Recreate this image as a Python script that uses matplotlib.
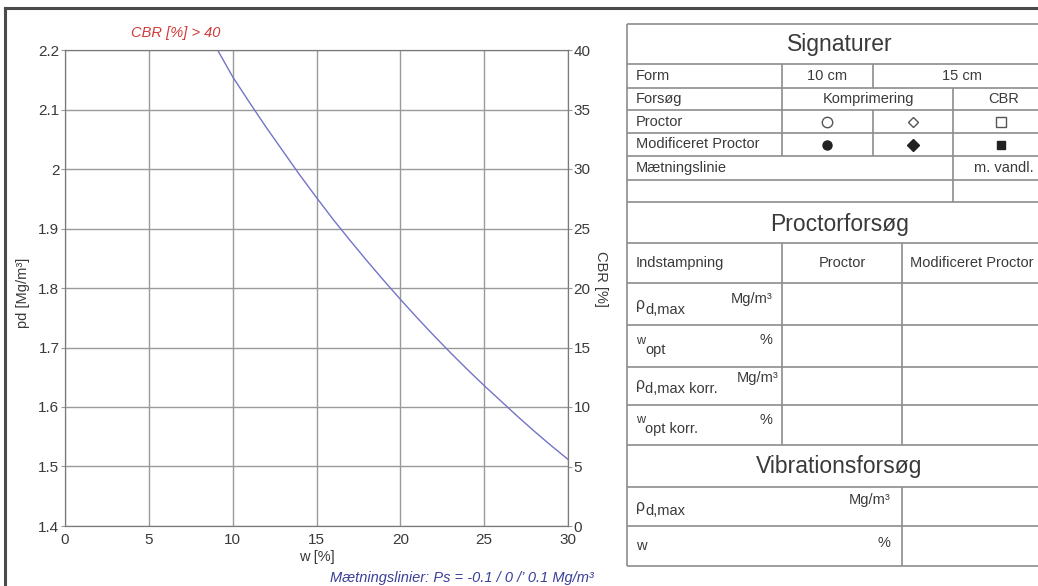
import matplotlib
matplotlib.use("Agg")
import matplotlib.pyplot as plt
from matplotlib.ticker import FuncFormatter

plt.rcParams['font.family'] = ['Liberation Sans', 'DejaVu Sans']

# saturation line (w [%], pd [Mg/m3])
w_sat = [9.1, 10, 11, 12, 13, 14, 15, 16, 17, 18, 19, 20, 21, 22, 23, 24, 25, 26, 27, 28, 29, 30]
pd_sat = [2.2, 2.155, 2.112, 2.07, 2.03, 1.99, 1.952, 1.915, 1.88, 1.846, 1.813, 1.781,
          1.75, 1.72, 1.691, 1.663, 1.636, 1.61, 1.584, 1.559, 1.535, 1.512]

w_ticks = [0, 5, 10, 15, 20, 25, 30]
pd_ticks = [1.4, 1.5, 1.6, 1.7, 1.8, 1.9, 2.0, 2.1, 2.2]
cbr_ticks = [0, 5, 10, 15, 20, 25, 30, 35, 40]

# table content
sig_labels = ['Form', 'Forsøg', 'Proctor', 'Modificeret Proctor', 'Mætningslinie']
proctor_syms = ['o', 'D', 's']
modproctor_syms = ['o', 'D', 's']
grid_col = '#9a9a9a'
tab_col = '#8c8c8c'
txt_col = '#3a3a3a'

fig = plt.figure(figsize=(10.38, 5.86), dpi=100)

# overlay in pixel coordinates for frame and table
ov = fig.add_axes([0, 0, 1, 1], zorder=0)
ov.set_xlim(0, 1038)
ov.set_ylim(586, 0)
ov.axis('off')

ax = fig.add_axes([65 / 1038, 1 - 526 / 586, 503 / 1038, 476 / 586], zorder=2)
ax.plot(w_sat, pd_sat, color='#7373c9', lw=1.0, zorder=3)
ax.set_xlim(0, 30)
ax.set_ylim(1.4, 2.2)
ax.set_xticks(w_ticks)
ax.set_yticks(pd_ticks)
ax.yaxis.set_major_formatter(FuncFormatter(lambda v, p: f'{v:g}'))
ax.grid(True, color=grid_col, lw=1.0)
ax.tick_params(axis='x', length=0, pad=5, labelsize=11, labelcolor=txt_col)
ax.tick_params(axis='y', length=3, color=grid_col, pad=1, labelsize=11, labelcolor=txt_col)
for s in ax.spines.values():
    s.set_color('#7a7a7a')
ax.set_xlabel('w [%]', fontsize=10.5, color=txt_col, labelpad=2)
ax.set_ylabel('pd [Mg/m³]', fontsize=10.5, color=txt_col)
ax.yaxis.set_label_coords(-0.07, 0.49)

ax2 = ax.twinx()
ax2.set_ylim(0, 40)
ax2.set_yticks(cbr_ticks)
ax2.tick_params(axis='y', length=3, color=grid_col, pad=1, labelsize=11, labelcolor=txt_col)
for s in ax2.spines.values():
    s.set_color('#7a7a7a')
ax2.set_ylabel('CBR [%]', fontsize=10.5, color=txt_col, rotation=270)
ax2.yaxis.set_label_coords(1.08, 0.52)

ax.text(0.22, 1.035, 'CBR [%] > 40', transform=ax.transAxes, ha='center', va='center',
        fontsize=10.5, style='italic', color='#d23a3a')
ov.text(462, 578, 'Mætningslinier: Ps = -0.1 / 0 /\u2019 0.1 Mg/m³', ha='center', va='center',
        fontsize=10.5, style='italic', color='#3a3f9a')

# outer frame
ov.plot([5, 1038], [8, 8], color='#4a4a4a', lw=2.2)
ov.plot([5, 5], [8, 586], color='#4a4a4a', lw=2.2)

# table geometry
X0, X1 = 627, 1052
sig_y = [24, 64, 88, 110, 133, 156, 180, 202]
proc_y = [243, 283, 325, 367, 405, 445]
vib_y = [487, 526, 566]


def hl(y, x0=X0, x1=X1):
    ov.plot([x0, x1], [y, y], color=tab_col, lw=1.2, solid_capstyle='butt')


def vl(x, y0, y1):
    ov.plot([x, x], [y0, y1], color=tab_col, lw=1.2, solid_capstyle='butt')


for y in sig_y + proc_y + vib_y:
    hl(y)
vl(X0, 24, 566)
vl(X1, 24, 566)
vl(782, 64, 156)
vl(873, 64, 88)
vl(873, 110, 156)
vl(953, 88, 202)
vl(782, 243, 445)
vl(902, 243, 445)
vl(902, 487, 566)

mid = (X0 + X1) / 2
ov.text(mid, 45, 'Signaturer', ha='center', va='center', fontsize=16.5, color=txt_col)
ov.text(mid, 225, 'Proctorforsøg', ha='center', va='center', fontsize=16.5, color=txt_col)
ov.text(mid, 467, 'Vibrationsforsøg', ha='center', va='center', fontsize=16.5, color=txt_col)

small = dict(fontsize=10.5, color=txt_col, va='center')
for i, lab in enumerate(sig_labels):
    ov.text(636, (sig_y[i + 1] + sig_y[i + 2]) / 2, lab, ha='left', **small)
ov.text(827, 76, '10 cm', ha='center', **small)
ov.text(962, 76, '15 cm', ha='center', **small)
ov.text(868, 99, 'Komprimering', ha='center', **small)
ov.text(1004, 99, 'CBR', ha='center', **small)
ov.text(1004, 168, 'm. vandl.', ha='center', **small)

sym_x = [827, 913, 1001]
sym_size = [7.5, 5.5, 6.5]
for x, m, ms in zip(sym_x, proctor_syms, sym_size):
    ov.plot(x, 121.5, marker=m, ms=ms, mfc='white', mec='#555555', mew=1.0)
for x, m, ms in zip(sym_x, modproctor_syms, [6.5, 6.5, 5.5]):
    ov.plot(x, 144.5, marker=m, ms=ms, mfc='#222222', mec='#222222')

ov.text(636, 263, 'Indstampning', ha='left', **small)
ov.text(842, 263, 'Proctor', ha='center', **small)
ov.text(910, 263, 'Modificeret Proctor', ha='left', **small)


def rho(x, y, sub):
    ov.text(x, y, 'ρ', ha='left', fontsize=11.5, color=txt_col, va='center')
    ov.text(x + 9, y + 5, sub, ha='left', fontsize=10.5, color=txt_col, va='center')


def wsym(x, y, sub):
    ov.text(x, y - 4, 'w', ha='left', fontsize=9, color=txt_col, va='center')
    ov.text(x + 9, y + 5, sub, ha='left', fontsize=10.5, color=txt_col, va='center')


rho(636, 305, 'd,max')
ov.text(772, 299, 'Mg/m³', ha='right', **small)
wsym(636, 345, 'opt')
ov.text(772, 340, '%', ha='right', **small)
rho(636, 384, 'd,max korr.')
ov.text(779, 378, 'Mg/m³', ha='right', **small)
wsym(636, 424, 'opt korr.')
ov.text(772, 420, '%', ha='right', **small)
rho(636, 506, 'd,max')
ov.text(890, 500, 'Mg/m³', ha='right', **small)
ov.text(636, 546, 'w', ha='left', **small)
ov.text(890, 543, '%', ha='right', **small)

fig.savefig('out.png', dpi=100)
